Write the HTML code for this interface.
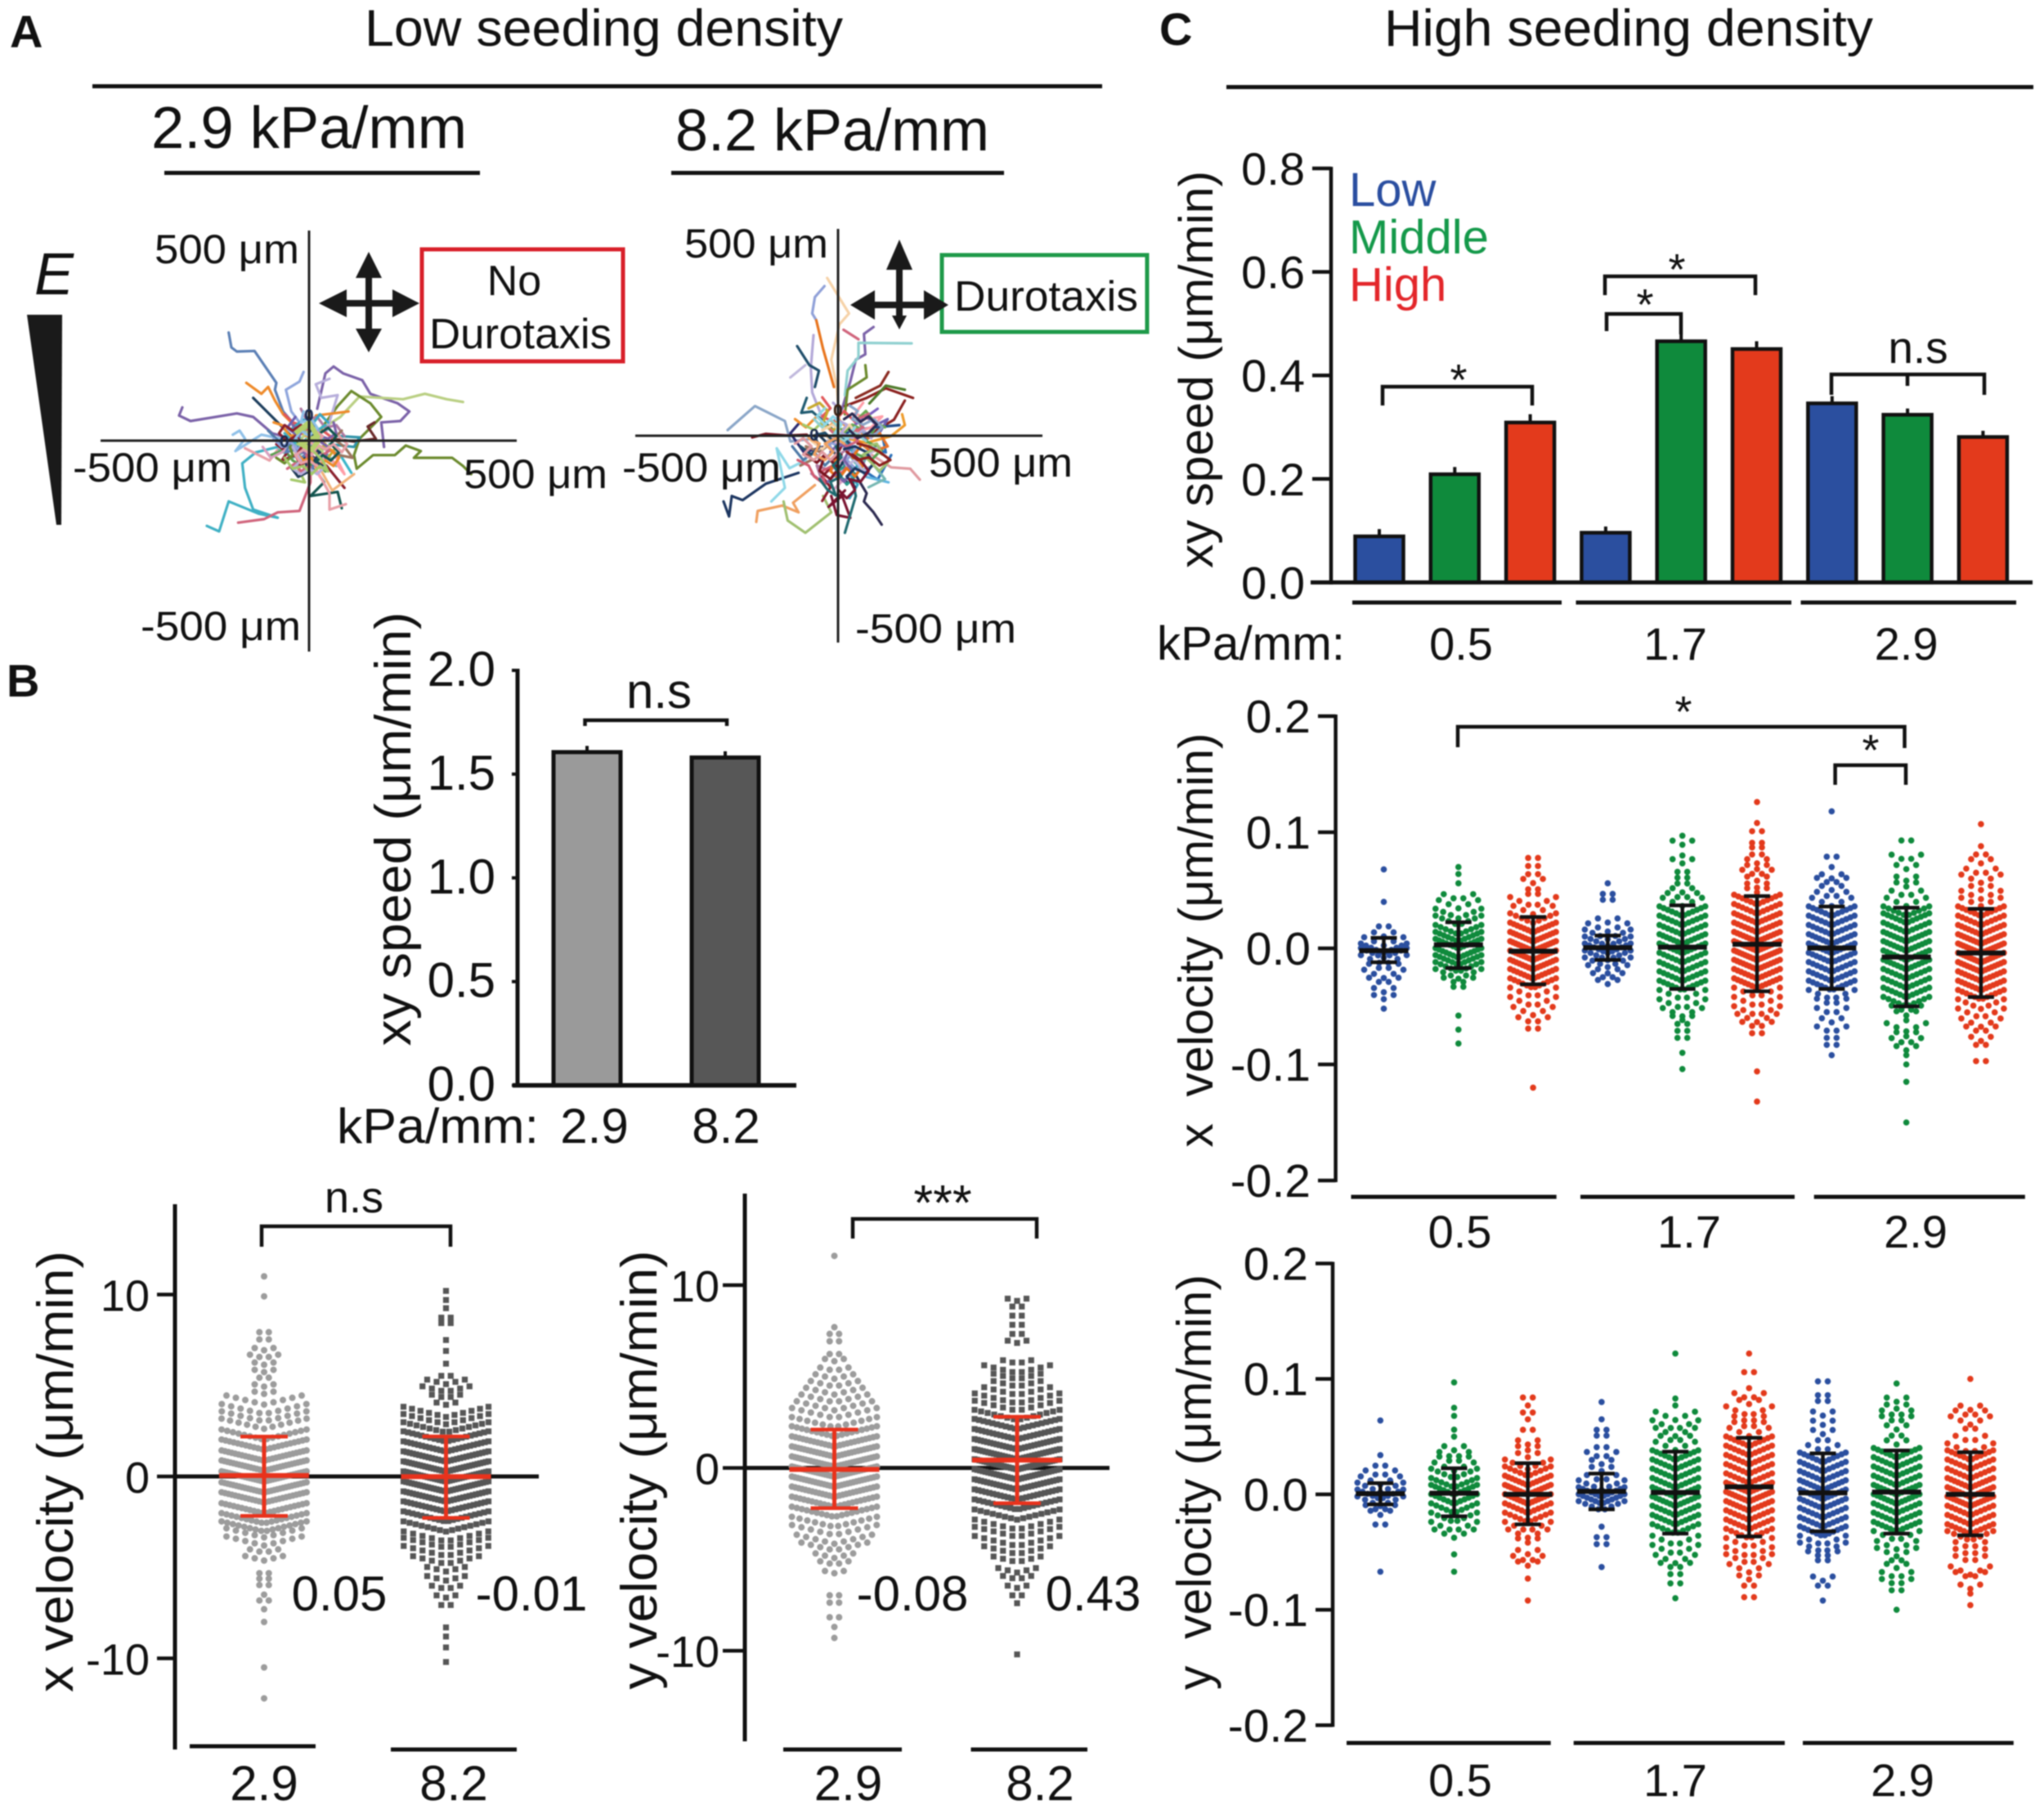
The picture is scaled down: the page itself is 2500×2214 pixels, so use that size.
<!DOCTYPE html>
<html lang="en">
<head>
<meta charset="utf-8">
<title>Low and high seeding density migration figure</title>
<style>
html,body{margin:0;padding:0;background:#fff;}
svg{display:block;font-family:"Liberation Sans",Arial,sans-serif;fill:#111;filter:blur(0.7px);}
</style>
</head>
<body>
<svg id="fig" width="2500" height="2214" viewBox="0 0 2500 2214">
<rect x="0" y="0" width="2500" height="2214" fill="#fff"/>

<g>
<text x="12" y="58" font-size="56" font-weight="bold">A</text>
<text x="446" y="56" font-size="63" textLength="585" lengthAdjust="spacingAndGlyphs">Low seeding density</text>
<rect x="113" y="103" width="1235" height="5" fill="#111"/>
<text x="185" y="181" font-size="72" textLength="386" lengthAdjust="spacingAndGlyphs">2.9 kPa/mm</text>
<text x="826" y="184" font-size="72" textLength="384" lengthAdjust="spacingAndGlyphs">8.2 kPa/mm</text>
<rect x="201" y="209" width="386" height="5" fill="#111"/>
<rect x="821" y="209" width="407" height="5" fill="#111"/>
<text x="42" y="360" font-size="72" font-style="italic">E</text>
<polygon points="33,385 76,385 75,642 69,642" fill="#1a1a1a"/>
<rect x="516" y="305" width="246" height="137" fill="#fff" stroke="#d8202a" stroke-width="5"/>
<text x="629" y="361" font-size="52" text-anchor="middle">No</text>
<text x="525" y="426" font-size="52" textLength="223" lengthAdjust="spacingAndGlyphs">Durotaxis</text>
<rect x="1152" y="312" width="251" height="94" fill="#fff" stroke="#1f9a4a" stroke-width="5"/>
<text x="1167" y="380" font-size="52" textLength="225" lengthAdjust="spacingAndGlyphs">Durotaxis</text>
<path fill="#1a1a1a" d="M400 367H502V375H400ZM447 320H455V420H447ZM390 371L424 354V388ZM513 371L480 388V354ZM451 308L467 340H435ZM451 431L435 402H467Z"/>
<path fill="#1a1a1a" d="M1050 369H1150V377H1050ZM1096 310H1104V395H1096ZM1040 373L1070 355V391ZM1160 373L1130 391V355ZM1100 293L1116 330H1084ZM1100 403L1091 386H1109Z"/>
<g id="tracks-left"></g>
<g id="tracks-right"></g>
<rect x="376.5" y="282" width="3" height="515" fill="#222"/>
<rect x="123" y="537.5" width="509" height="3" fill="#222"/>
<rect x="1023.5" y="280" width="3" height="506" fill="#222"/>
<rect x="777" y="531.5" width="498" height="3" fill="#222"/>
<text x="189" y="322" font-size="50" textLength="177" lengthAdjust="spacingAndGlyphs">500 μm</text>
<text x="89" y="589" font-size="50" textLength="195" lengthAdjust="spacingAndGlyphs">-500 μm</text>
<text x="567" y="597" font-size="50" textLength="176" lengthAdjust="spacingAndGlyphs">500 μm</text>
<text x="172" y="783" font-size="50" textLength="196" lengthAdjust="spacingAndGlyphs">-500 μm</text>
<text x="837" y="315" font-size="50" textLength="176" lengthAdjust="spacingAndGlyphs">500 μm</text>
<text x="761" y="589" font-size="50" textLength="194" lengthAdjust="spacingAndGlyphs">-500 μm</text>
<text x="1136" y="583" font-size="50" textLength="176" lengthAdjust="spacingAndGlyphs">500 μm</text>
<text x="1046" y="786" font-size="50" textLength="197" lengthAdjust="spacingAndGlyphs">-500 μm</text>
<text x="372" y="515" font-size="21" font-weight="bold" fill="#1c2b50">0</text>
<text x="342" y="547" font-size="21" font-weight="bold" fill="#1c2b50">0</text>
<text x="1019" y="509" font-size="21" font-weight="bold" fill="#3a2010">0</text>
<text x="990" y="539" font-size="21" font-weight="bold" fill="#1c2b50">0</text>
</g>

<g>
<text x="8" y="852" font-size="56" font-weight="bold">B</text>
<text transform="translate(502 1014) rotate(-90)" font-size="62" text-anchor="middle" textLength="531" lengthAdjust="spacingAndGlyphs">xy speed (μm/min)</text>
<text x="412" y="1398" font-size="60" textLength="247" lengthAdjust="spacingAndGlyphs">kPa/mm:</text>
<text transform="translate(89 1800) rotate(-90)" font-size="62" text-anchor="middle" textLength="540" lengthAdjust="spacingAndGlyphs">x velocity (μm/min)</text>
<text transform="translate(803 1798) rotate(-90)" font-size="62" text-anchor="middle" textLength="537" lengthAdjust="spacingAndGlyphs">y velocity (μm/min)</text>
<text x="806" y="866" font-size="60" text-anchor="middle">n.s</text>
<path d="M715.5 888V881H889V888" fill="none" stroke="#111" stroke-width="4.5"/>
<text x="433" y="1483" font-size="54" text-anchor="middle">n.s</text>
<path d="M320 1525V1500H551V1525" fill="none" stroke="#111" stroke-width="4.5"/>
<text x="1153" y="1492" font-size="61" text-anchor="middle">***</text>
<path d="M1043 1515V1491H1268V1515" fill="none" stroke="#111" stroke-width="4.5"/>
</g>

<g>
<text x="1418" y="55" font-size="56" font-weight="bold">C</text>
<text x="1693" y="56" font-size="63" textLength="598" lengthAdjust="spacingAndGlyphs">High seeding density</text>
<rect x="1500" y="104" width="987" height="5" fill="#111"/>
<text transform="translate(1483 452) rotate(-90)" font-size="58" text-anchor="middle" textLength="486" lengthAdjust="spacingAndGlyphs">xy speed (μm/min)</text>
<text x="1650" y="252" font-size="58" fill="#2a4ea0">Low</text>
<text x="1650" y="310" font-size="58" fill="#14994a">Middle</text>
<text x="1650" y="368" font-size="58" fill="#e3262a">High</text>
<text x="1415" y="807" font-size="58" textLength="230" lengthAdjust="spacingAndGlyphs">kPa/mm:</text>
<text x="1784" y="483" font-size="54" text-anchor="middle">*</text>
<path d="M1691 496V473H1874V496" fill="none" stroke="#111" stroke-width="4.5"/>
<text x="2051" y="348" font-size="54" text-anchor="middle">*</text>
<path d="M1963 361V338H2147V361" fill="none" stroke="#111" stroke-width="4.5"/>
<text x="2012" y="391" font-size="54" text-anchor="middle">*</text>
<path d="M1965 405V384H2056V409" fill="none" stroke="#111" stroke-width="4.5"/>
<text x="2346" y="444" font-size="55" text-anchor="middle">n.s</text>
<path d="M2240 483V458H2427V483M2333 458V472" fill="none" stroke="#111" stroke-width="4.5"/>
<text transform="translate(1483 1150) rotate(-90)" font-size="59" text-anchor="middle" textLength="507" lengthAdjust="spacingAndGlyphs">x&#160;&#160;velocity (μm/min)</text>
<text x="2059" y="889" font-size="54" text-anchor="middle">*</text>
<path d="M1783 914V889H2329.5V915" fill="none" stroke="#111" stroke-width="4.5"/>
<text x="2288" y="936" font-size="54" text-anchor="middle">*</text>
<path d="M2244.6 960V936H2331V960" fill="none" stroke="#111" stroke-width="4.5"/>
<text transform="translate(1481 1813) rotate(-90)" font-size="59" text-anchor="middle" textLength="508" lengthAdjust="spacingAndGlyphs">y&#160;&#160;velocity (μm/min)</text>
</g>

<g id="charts"></g>
</svg>

<script>
/* ---------- Panel B bar chart ---------- */
const bBarCategories = ['2.9', '8.2'];
const bBarValues = [1.606, 1.58];
const bBarErrors = [0.03, 0.03];
const bBarTicks = ['0.0', '0.5', '1.0', '1.5', '2.0'];

/* ---------- Panel B swarms: rows of [velocity, dot count] ---------- */
const bXvelLow = [[11,1],[9.9,1],[7.9,2],[7.5,2],[7,3],[6.6,4],[6.2,3],[5.8,3],[5.4,2],[5,3],[4.6,3],[4.2,9],[3.7,10],[3.3,10],[2.9,11],[2.3,16],[1.75,22],[1.15,26],[0.6,30],[0,34],[-0.6,30],[-1.15,26],[-1.75,22],[-2.3,18],[-2.75,16],[-3.1,9],[-3.55,9],[-4.1,4],[-4.5,5],[-5.35,2],[-5.65,2],[-6,2],[-6.5,1],[-6.85,2],[-7.3,1],[-8,1],[-10.5,1],[-12.2,1]];
const bXvelHigh = [[10.2,1],[9.7,1],[9.25,1],[8.7,2],[8.4,2],[7.5,1],[6.9,1],[6.2,1],[5.5,2],[5.2,5],[4.8,6],[4.4,4],[4,3],[3.55,11],[3.15,11],[2.7,14],[2.2,20],[1.65,24],[1.1,28],[0.55,32],[0,36],[-0.55,32],[-1.1,28],[-1.65,24],[-2.2,20],[-2.75,15],[-3.3,10],[-3.65,10],[-4.1,10],[-4.6,8],[-5.1,5],[-5.6,5],[-6.1,4],[-6.6,3],[-7.1,2],[-8.3,1],[-8.8,1],[-9.4,1],[-10.2,1]];
const bYvelLow = [[11.6,1],[7.7,1],[7.3,2],[6.9,2],[6.2,2],[5.9,3],[5.4,4],[5,5],[4.6,6],[4.2,7],[3.8,8],[3.4,9],[3,10],[2.5,12],[2,18],[1.45,24],[0.9,28],[0.35,32],[-0.2,34],[-0.75,30],[-1.3,26],[-1.85,22],[-2.4,18],[-2.95,12],[-3.4,10],[-3.9,9],[-4.3,8],[-4.8,5],[-5.2,4],[-5.7,3],[-7,2],[-7.4,2],[-8.2,2],[-8.7,1],[-9.3,1]];
const bYvelHigh = [[9.2,3],[8.8,2],[8.3,2],[7.8,2],[7.3,2],[6.9,3],[5.8,4],[5.4,8],[5,6],[4.6,6],[4.2,8],[3.8,10],[3.4,10],[2.9,14],[2.4,20],[1.85,24],[1.3,28],[0.75,32],[0.2,36],[-0.35,32],[-0.9,28],[-1.45,24],[-2,20],[-2.55,15],[-3.1,10],[-3.5,10],[-4,10],[-4.5,8],[-5,6],[-5.6,5],[-6,4],[-6.5,3],[-7,2],[-7.4,1],[-10.2,1]];
const bXvelMeans = [0.05, -0.01];
const bXvelUpper = [2.19, 2.2];
const bXvelLower = [-2.17, -2.28];
const bYvelMeans = [-0.08, 0.43];
const bYvelUpper = [2.1, 2.8];
const bYvelLower = [-2.2, -1.93];
const bVelTicks = ['10', '0', '-10'];
const bXvelPrinted = ['0.05', '-0.01'];
const bYvelPrinted = ['-0.08', '0.43'];

/* ---------- Panel C bar chart ---------- */
const cGroups = ['0.5', '1.7', '2.9'];
const cDensities = ['low', 'middle', 'high'];
const cBarValues = [0.089, 0.209, 0.309, 0.096, 0.466, 0.451, 0.346, 0.324, 0.281];
const cBarErrors = [0.014, 0.014, 0.016, 0.012, 0.014, 0.015, 0.014, 0.012, 0.012];
const cBarTicks = ['0.0', '0.2', '0.4', '0.6', '0.8'];
const cVelTicks = ['0.2', '0.1', '0.0', '-0.1', '-0.2'];

/* ---------- Panel C x velocity swarms: rows of [velocity, dot count] ---------- */
const xvLow05 = [[0.068,1],[0.04,1],[0.018,2],[0.012,3],[0.006,5],[0,10],[-0.004,9],[-0.01,6],[-0.016,4],[-0.022,5],[-0.028,4],[-0.036,3],[-0.042,3],[-0.052,1]];
const xvMid05 = [[0.07,1],[0.064,1],[0.056,1],[0.044,4],[0.038,5],[0.03,7],[0.024,8],[0.016,10],[0.01,12],[0.004,14],[-0.004,14],[-0.01,12],[-0.016,10],[-0.022,7],[-0.028,4],[-0.034,2],[-0.058,1],[-0.07,1],[-0.082,1]];
const xvHigh05 = [[0.077,2],[0.07,2],[0.063,2],[0.058,3],[0.05,2],[0.046,2],[0.04,6],[0.033,5],[0.026,9],[0.018,14],[0.01,16],[0.002,18],[-0.006,18],[-0.014,16],[-0.022,14],[-0.03,12],[-0.038,6],[-0.046,6],[-0.054,5],[-0.062,4],[-0.07,2],[-0.12,1]];
const xvLow17 = [[0.056,1],[0.046,2],[0.041,2],[0.024,3],[0.018,5],[0.012,7],[0.006,9],[0,11],[-0.006,9],[-0.012,7],[-0.018,5],[-0.024,4],[-0.029,3]];
const xvMid17 = [[0.097,1],[0.091,3],[0.08,1],[0.075,3],[0.065,2],[0.06,2],[0.055,2],[0.05,3],[0.045,4],[0.04,5],[0.032,12],[0.024,12],[0.016,12],[0.008,14],[0,14],[-0.008,12],[-0.016,12],[-0.024,12],[-0.032,12],[-0.04,6],[-0.048,6],[-0.055,5],[-0.06,3],[-0.066,2],[-0.072,2],[-0.078,2],[-0.09,1],[-0.104,1]];
const xvHigh17 = [[0.126,1],[0.108,1],[0.1,2],[0.09,2],[0.086,2],[0.08,2],[0.075,3],[0.07,3],[0.065,4],[0.06,3],[0.054,3],[0.05,3],[0.042,12],[0.034,12],[0.026,14],[0.018,14],[0.01,16],[0.002,18],[-0.006,18],[-0.014,16],[-0.022,14],[-0.03,14],[-0.038,6],[-0.046,6],[-0.054,6],[-0.06,5],[-0.066,4],[-0.074,2],[-0.106,1],[-0.132,1]];
const xvLow29 = [[0.118,1],[0.078,2],[0.07,1],[0.062,3],[0.058,4],[0.052,3],[0.046,4],[0.04,5],[0.032,12],[0.024,12],[0.016,12],[0.008,14],[0,14],[-0.008,13],[-0.016,12],[-0.024,12],[-0.032,12],[-0.04,6],[-0.046,4],[-0.054,4],[-0.062,3],[-0.07,4],[-0.078,2],[-0.084,2],[-0.092,1]];
const xvMid29 = [[0.092,2],[0.078,4],[0.07,3],[0.06,3],[0.055,3],[0.047,4],[0.04,5],[0.032,10],[0.026,12],[0.018,12],[0.01,14],[0.002,14],[-0.006,14],[-0.014,14],[-0.022,12],[-0.03,12],[-0.038,12],[-0.046,10],[-0.052,4],[-0.056,3],[-0.062,1],[-0.068,5],[-0.074,3],[-0.08,4],[-0.086,3],[-0.092,1],[-0.1,1],[-0.115,1],[-0.15,1]];
const xvHigh29 = [[0.107,1],[0.088,1],[0.08,2],[0.075,3],[0.066,4],[0.06,5],[0.052,3],[0.046,5],[0.04,5],[0.032,12],[0.024,12],[0.016,14],[0.008,16],[0,18],[-0.008,18],[-0.016,16],[-0.024,14],[-0.032,14],[-0.04,12],[-0.048,7],[-0.056,6],[-0.064,5],[-0.07,4],[-0.078,3],[-0.084,2],[-0.098,2]];
const xvMeans = [-0.002, 0.003, -0.0025, 0.0006, 0.001, 0.0035, 0.0003, -0.0075, -0.004];
const xvUpper = [0.009, 0.0225, 0.027, 0.011, 0.037, 0.045, 0.036, 0.035, 0.034];
const xvLower = [-0.012, -0.017, -0.031, -0.01, -0.035, -0.037, -0.035, -0.05, -0.042];

/* ---------- Panel C y velocity swarms: rows of [velocity, dot count] ---------- */
const yvLow05 = [[0.064,1],[0.034,1],[0.024,2],[0.018,4],[0.012,5],[0.006,7],[0,10],[-0.006,7],[-0.012,4],[-0.016,3],[-0.027,2],[-0.067,1]];
const yvMid05 = [[0.097,1],[0.075,1],[0.068,1],[0.056,1],[0.05,1],[0.04,3],[0.034,4],[0.03,4],[0.024,5],[0.018,8],[0.01,10],[0.004,12],[-0.004,12],[-0.012,10],[-0.02,8],[-0.028,6],[-0.034,5],[-0.052,1],[-0.067,1]];
const yvHigh05 = [[0.083,2],[0.077,1],[0.07,2],[0.065,1],[0.055,2],[0.045,3],[0.04,3],[0.034,3],[0.026,7],[0.02,10],[0.012,14],[0.004,16],[-0.004,16],[-0.012,12],[-0.02,10],[-0.028,6],[-0.034,5],[-0.04,3],[-0.05,3],[-0.056,4],[-0.06,3],[-0.073,1],[-0.092,1]];
const yvLow17 = [[0.08,1],[0.065,1],[0.055,2],[0.05,2],[0.04,2],[0.034,4],[0.028,3],[0.022,3],[0.014,4],[0.008,7],[0.002,12],[-0.004,12],[-0.01,8],[-0.028,1],[-0.038,2],[-0.044,2],[-0.063,1]];
const yvMid17 = [[0.122,1],[0.083,1],[0.077,1],[0.068,5],[0.06,6],[0.054,5],[0.048,4],[0.042,5],[0.034,12],[0.026,12],[0.018,12],[0.01,12],[0.002,14],[-0.006,14],[-0.014,12],[-0.022,12],[-0.03,10],[-0.04,6],[-0.048,6],[-0.056,5],[-0.062,4],[-0.07,2],[-0.078,2],[-0.09,1]];
const yvHigh17 = [[0.122,1],[0.105,2],[0.092,1],[0.085,4],[0.08,3],[0.072,6],[0.065,4],[0.06,4],[0.054,5],[0.046,12],[0.038,12],[0.03,12],[0.022,12],[0.014,12],[0.006,16],[-0.002,16],[-0.01,14],[-0.018,12],[-0.026,12],[-0.034,10],[-0.042,6],[-0.05,6],[-0.056,6],[-0.064,5],[-0.072,3],[-0.08,2],[-0.09,2]];
const yvLow29 = [[0.097,2],[0.085,2],[0.08,2],[0.07,3],[0.062,3],[0.054,3],[0.046,2],[0.04,4],[0.032,12],[0.024,12],[0.016,12],[0.008,14],[0,14],[-0.008,13],[-0.016,12],[-0.024,12],[-0.032,12],[-0.04,6],[-0.046,6],[-0.052,4],[-0.058,2],[-0.073,3],[-0.08,2],[-0.092,1]];
const yvMid29 = [[0.096,1],[0.082,3],[0.076,3],[0.07,4],[0.065,4],[0.058,3],[0.05,2],[0.045,3],[0.036,12],[0.028,12],[0.02,12],[0.012,12],[0.004,14],[-0.004,14],[-0.012,12],[-0.02,12],[-0.028,12],[-0.036,6],[-0.044,5],[-0.05,5],[-0.058,2],[-0.062,3],[-0.07,4],[-0.076,4],[-0.084,2],[-0.1,1]];
const yvHigh29 = [[0.1,1],[0.075,3],[0.07,4],[0.064,5],[0.056,2],[0.048,4],[0.04,6],[0.034,12],[0.026,12],[0.018,12],[0.01,14],[0.002,16],[-0.006,16],[-0.014,12],[-0.022,12],[-0.03,12],[-0.036,8],[-0.044,4],[-0.05,4],[-0.056,4],[-0.066,5],[-0.07,4],[-0.08,3],[-0.086,1],[-0.096,1]];
const yvMeans = [0.0006, 0.001, 0, 0.0026, 0.0016, 0.0065, 0.0013, 0.002, 0];
const yvUpper = [0.0097, 0.0226, 0.027, 0.018, 0.037, 0.049, 0.0355, 0.038, 0.0365];
const yvLower = [-0.0087, -0.019, -0.026, -0.013, -0.034, -0.0365, -0.032, -0.034, -0.0355];

/* ---------- Panel A trajectories: flat [dx, dy, dx, dy, ...] displacements from origin ---------- */
const leftTrackColors = ['#5b7fb5','#7b62a8','#7b62a8','#b9cf82','#6b8a2d','#3fb0c4','#d0647c','#ee8a2a','#1c3d5c','#8fa6dc','#b7aedb','#12554f','#8a1f2c','#e8a0a8','#e8a0a8','#8fc0e8','#a4c96a','#6a2a2a','#2f93a8','#3ab5c9','#f2b27a','#ee8a2a','#4e79a7','#f28e2b','#76b7b2','#e15759','#59a14f','#b07aa1','#ff9da7','#9c755f','#1f3b57','#a4c96a','#8c1c2c','#3aa6c2','#d9a0c0','#6b5fb0','#c7a92e'];
const leftTracks = [
[-295,400,-285,345,-265,330,-200,332,-120,215,-125,190,-95,110,-35,40],
[-465,125,-477,95,-435,75,-265,103,-205,90,-135,30,-65,10],
[30,120,60,250,90,275,125,250,195,225,225,175,325,140,368,110,335,75,265,70,275,-20],
[565,145,505,155,425,175,345,155,185,165,115,90,5,20],
[595,-120,565,-90,525,-60,385,-60,410,-35,355,-15,315,-50,235,-50,175,-100,165,-50,185,10,265,90,225,140,155,185,105,130,25,20],
[-375,-310,-330,-330,-295,-220,-185,-265,-115,-280,-205,-250,-235,-170,-245,-80,-195,-40,-115,-20,-15,-10],
[-260,-298,-165,-285,-115,-260,-35,-255,5,-150,5,-50],
[-230,215,-175,175,-150,200,-125,150,-95,100,-15,20],
[-205,160,-135,90,-65,20],
[-20,255,-35,220,-85,190,-65,110,-5,30],
[75,230,25,210,45,160,105,170,65,40],
[120,-245,105,-185,5,-200,55,-150,-5,-60],
[130,-170,65,-90,5,-50],
[-235,-25,-145,-70,-115,-30,-35,-20],
[135,-230,75,-250,75,-190,25,-100],
[-280,25,-255,40,-235,10,-270,-35,-175,25,-55,0],
[-65,-140,-15,-150,-45,-90,5,-30],
[240,70,215,55,245,10,165,0,85,10],
[105,20,185,15,165,-20,75,-10],
[155,-115,115,-50,25,-10],
[165,-120,85,-180,35,-90],
[145,110,25,95,5,30],
[-150,40,-120,10,-90,-20,-40,-10,10,-30,40,-60],
[-130,70,-100,60,-70,20,-20,30,20,0,60,10],
[-110,-30,-60,-60,-20,-40,30,-80,70,-50,100,-90],
[-90,100,-60,70,-30,60,10,30,50,40,90,10],
[-140,-50,-90,-30,-60,-70,-10,-100,20,-70,60,-110],
[-30,120,-10,80,30,90,60,50,100,60,130,20],
[40,-130,20,-90,60,-60,100,-80,130,-120,90,-40],
[120,40,90,10,130,-20,160,-60,110,-50,60,-20],
[-70,-90,-40,-130,0,-110,-20,-60,30,-30,10,10],
[-20,40,10,70,40,40,20,0,50,-30,80,-10],
[-120,-10,-80,-40,-100,-70,-50,-50,-30,-90,0,-60],
[70,70,40,100,10,60,-20,80,-60,50,-30,10],
[-170,-20,-140,-60,-100,-40,-60,-10,-30,-30,10,-10],
[-50,90,-80,50,-40,20,-70,-10,-30,-40,20,-20],
[100,-20,70,-60,30,-40,60,-10,20,20,-20,0],
[-100,20,-70,-10,-85,-40,-50,-30,-30,-60,0,-40,20,-70,10,-110],
[-60,60,-30,30,-50,0,-10,-10,10,20,40,0,70,-20,60,-60],
[-40,-20,-10,-50,20,-30,10,0,40,20,70,10,100,30,90,70],
[10,50,-20,20,-40,-10,-10,-30,20,-10,50,-40,30,-70,60,-100],
[-120,-60,-90,-80,-60,-50,-70,-20,-40,0,-10,-20,20,10,0,40],
[60,60,30,40,50,10,20,-10,-10,10,-30,-20,-60,0,-90,30],
[-80,-100,-50,-80,-30,-110,0,-90,-10,-50,20,-30,50,-50,80,-30],
[80,-30,110,-60,90,-90,60,-70,30,-100,10,-60,-20,-70,-50,-40],
[-10,90,20,60,0,30,30,10,10,-20,40,-40,20,-70,50,-90],
[-130,10,-100,-20,-70,0,-40,-30,-20,0,10,-10,40,20,30,50],
[-60,-20,-30,-70,-60,-100,-30,-120,0,-100,30,-120,60,-90,40,-50],
[40,30,70,50,100,20,80,-10,110,-40,80,-70,50,-50,20,-80],
[-30,60,-60,40,-90,60,-110,30,-80,0,-50,20,-20,-10,-40,-40],
[0,0,30,-20,10,-50,-20,-30,-50,-50,-30,-80,0,-70,30,-90],
[20,40,50,20,30,-10,60,-30,90,-10,120,-40,140,-10,110,20],
[-20,-10,-50,10,-30,40,0,20,30,50,10,80,-30,70,-20,110],
[-90,-60,-60,-100,-20,-90,10,-120,40,-90,70,-110,50,-70,20,-40]
];
const leftThickTrack = [-50,30,0,70,30,20,-30,-10,10,-30,40,10];
const rightTrackColors = ['#f6d2a8','#8fa0d8','#e8741c','#b3a8d8','#1f4d6a','#c0b8dc','#7b62a8','#d0647c','#8fd0d0','#8aa6c8','#7a1420','#1c3560','#f0a060','#a0c070','#8fd8e8','#7a1430','#2c2a50','#1f6a70','#e09aa0','#8a1f1c','#8a2a20','#6b8a2d','#4e7a2a','#8a2020','#ee9a2a','#7b5fc0','#2a70b8','#1f4d8a','#5fb5e0','#2c2a70','#1f5a70','#4e79a7','#f28e2b','#76b7b2','#e15759','#59a14f','#b07aa1','#ff9da7','#9c755f','#1f3b57','#a4c96a','#8c1c2c','#3aa6c2','#d9a0c0','#6b5fb0','#c7a92e','#e6722a','#2a9a8a','#d05a70','#6aa84f'];
const rightTracks = [
[-42,578,38,448,3,408,-27,278,-7,178,3,58],
[-52,548,-87,508,-97,448,-82,423],
[-82,423,-57,318,-17,178],
[-92,368,-102,248,-97,158,-57,58],
[-152,328,-107,258,-72,238,-87,178],
[-177,213,-122,258],
[128,398,93,373,98,298,63,278,43,198,13,98],
[18,388,73,353],
[268,338,73,340,73,288,33,238,23,148],
[-407,20,-307,108,-197,53,-177,-22,-97,-12],
[-317,-7,-267,6,-187,0,-117,3],
[-422,-242,-402,-297,-392,-222,-352,-237,-267,-177,-147,-137],
[-302,-317,-297,-277,-207,-257,-147,-282,-167,-247,-87,-182],
[-202,-242,-187,-312,-122,-357,-27,-282,-57,-222],
[-247,-242,-197,-192,-227,-47,-180,-120,-120,-90],
[-27,-222,-7,-292,43,-302,13,-222,-37,-262,23,-202],
[158,-327,128,-282,93,-242,103,-212,60,-140],
[23,-357,63,-222,43,-122],
[298,-162,263,-122,193,-117,123,-72],
[273,138,173,173,103,138,23,108],
[183,233,153,183,63,138],
[98,258,103,213,33,168,23,78],
[243,168,173,183,113,118],
[243,128,203,58,103,-2],
[233,78,243,38,193,-2,103,-27,13,-7],
[143,98,73,48,23,18],
[163,-12,173,-62,113,-42,83,-122,143,-162,193,-72],
[223,38,113,28,23,8],
[183,-172,103,-152,33,-62],
[-147,43,-177,8,-127,-62,-57,-42],
[-117,138,-137,83,-97,88,-17,18],
[-170,-40,-130,-90,-90,-60,-50,-110,-10,-70,30,-120],
[-160,60,-120,30,-80,70,-40,30,0,60,40,20],
[60,-100,100,-70,80,-130,130,-110,170,-160,110,-190],
[-60,140,-30,100,-60,70,-20,50,20,90,60,50],
[130,20,100,-20,160,-50,120,-90,70,-70,30,-30],
[-100,-140,-60,-170,-80,-110,-30,-130,-10,-80,30,-50],
[90,120,60,80,110,60,160,70,120,30,60,10],
[-140,-110,-100,-90,-120,-40,-70,-60,-30,-30,0,-10],
[-80,10,-50,-20,-20,-60,20,-90,-10,-140,30,-170],
[-130,40,-90,20,-60,50,-20,10,30,30,70,-10],
[-60,-240,-30,-190,-60,-150,-20,-110,0,-60,20,-20],
[40,-230,70,-180,40,-140,80,-100,50,-60,20,-10],
[-20,-200,10,-170,-30,-130,10,-90,-10,-40,-20,0],
[100,70,140,40,180,60,150,10,100,-10,50,0],
[-110,100,-70,120,-40,90,-60,40,-20,20,10,40],
[60,30,110,-10,150,10,180,-40,120,-60,70,-20],
[-30,-90,0,-130,40,-100,60,-150,30,-180,0,-140],
[-150,-90,-110,-110,-90,-150,-50,-180,-60,-130,-20,-110,10,-140,40,-100],
[170,30,130,50,100,90,70,60,90,20,50,40,20,10,-10,40],
[-100,-20,-60,-50,-30,-20,-60,20,-20,40,10,10,40,40,70,0],
[-60,-90,-20,-60,-40,-20,0,-40,30,-10,60,-50,30,-90,70,-130],
[80,-40,50,-80,90,-110,60,-150,30,-120,0,-160,-30,-130,-10,-90],
[-20,120,10,90,-10,60,30,40,10,10,50,-10,90,20,120,-10],
[-140,-40,-100,-70,-70,-40,-90,0,-50,10,-20,-20,10,0,40,-30],
[150,-40,110,-70,130,-110,90,-130,60,-90,30,-110,10,-70,-20,-50],
[-40,-170,-10,-140,20,-170,50,-130,20,-90,40,-50,0,-30,-30,-60],
[110,80,70,60,90,30,50,10,70,-20,30,-40,0,-10,-30,20],
[-90,60,-60,30,-30,60,0,30,-20,0,20,-20,60,10,100,-20],
[40,110,70,90,50,60,90,40,130,60,160,30,130,0,90,10],
[-120,-70,-80,-100,-50,-70,-70,-130,-30,-160,0,-120,-30,-90,10,-70],
[60,-190,30,-150,60,-120,100,-140,130,-100,100,-60,60,-40,20,-50],
[-110,-10,-70,-30,-90,-70,-50,-90,-20,-60,-50,-30,-10,-10,20,-30],
[180,-100,150,-130,120,-100,90,-70,130,-50,160,-70,140,-30,100,-40],
[-50,100,-80,70,-50,40,-20,70,10,40,-10,10,30,-10,60,30],
[0,-200,30,-230,60,-200,40,-160,80,-170,110,-130,80,-90,50,-70],
[20,60,50,80,80,50,110,70,140,40,110,10,70,-10,40,20],
[-70,-160,-40,-200,-10,-220,-30,-170,10,-150,-20,-110,10,-80,-10,-40],
[-160,-30,-130,-10,-100,-40,-130,-70,-90,-90,-60,-60,-30,-90,0,-60],
[30,-60,70,-90,110,-80,150,-110,190,-90,150,-60,110,-40,70,-30]
];

/* ---------- Drawing helpers ---------- */
const svgNS = 'http://www.w3.org/2000/svg';
const chartsRoot = document.getElementById('charts');

function add(tag, attrs, name, parent) {
  const el = document.createElementNS(svgNS, tag);
  for (const k in attrs) el.setAttribute(k, attrs[k]);
  
  
  (parent || chartsRoot).appendChild(el);
  return el;
}
function addText(str, x, y, size, anchor, name, parent) {
  const el = add('text', {x: x, y: y, 'font-size': size, 'text-anchor': anchor}, name, parent);
  el.textContent = str;
  return el;
}
function hLine(x1, x2, y, w, color, name, parent) {
  return add('rect', {x: x1, y: y - w / 2, width: x2 - x1, height: w, fill: color}, name, parent);
}
function vLine(x, y1, y2, w, color, name, parent) {
  return add('rect', {x: x - w / 2, y: Math.min(y1, y2), width: w, height: Math.abs(y2 - y1), fill: color}, name, parent);
}
function linear(v0, p0, v1, p1) {
  return v => p0 + (v - v0) * (p1 - p0) / (v1 - v0);
}

function drawSwarm(rows, cx, yScale, o, name, parent) {
  const g = add('g', {fill: o.color}, name, parent);
  rows.forEach(row => {
    const v = row[0], n = row[1];
    const gap = n > 1 ? Math.min(o.gap, o.width / (n - 1)) : 0;
    const rowHalf = gap * (n - 1) / 2;
    for (let i = 0; i < n; i++) {
      const dx = (i - (n - 1) / 2) * gap;
      const px = cx + dx;
      const py = yScale(v) + o.slope * (rowHalf / 2 - Math.abs(dx));
      if (o.square) {
        add('rect', {x: px - o.size / 2, y: py - o.size / 2, width: o.size, height: o.size}, 'swarm-square', g);
      } else {
        add('circle', {cx: px, cy: py, r: o.size / 2}, 'swarm-dot', g);
      }
    }
  });
}
function drawErr(cx, yScale, mean, up, low, o, name, parent) {
  const g = add('g', {}, name, parent);
  vLine(cx, yScale(up), yScale(low), o.vw, o.color, 'sd-stem', g);
  hLine(cx - o.capW / 2, cx + o.capW / 2, yScale(up), o.capH, o.color, 'sd-cap-upper', g);
  hLine(cx - o.capW / 2, cx + o.capW / 2, yScale(low), o.capH, o.color, 'sd-cap-lower', g);
  hLine(cx - o.meanW / 2, cx + o.meanW / 2, yScale(mean), o.meanH, o.color, 'mean-line', g);
}
function drawTracks(list, colors, ox, oy, name, parent) {
  const unit = 1 / 3;
  list.forEach((t, i) => {
    let pts = '';
    for (let k = 0; k < t.length; k += 2) pts += (ox + t[k] * unit).toFixed(1) + ',' + (oy - t[k + 1] * unit).toFixed(1) + ' ';
    add('polyline', {points: pts, fill: 'none', stroke: colors[i % colors.length], 'stroke-width': 3.2, 'stroke-linejoin': 'round', 'stroke-linecap': 'round'}, name, parent);
  });
}

/* ---------- Panel A tracks ---------- */
const tl = document.getElementById('tracks-left');
const tr = document.getElementById('tracks-right');
drawTracks(leftTracks, leftTrackColors, 378, 540, 'cell-track', tl);
add('polyline', {points: leftThickTrack.reduce((s, v, i) => s + (i % 2 ? (540 - v / 3).toFixed(1) + ' ' : (378 + v / 3).toFixed(1) + ','), ''), fill: 'none', stroke: '#b5d06c', 'stroke-width': 6}, 'cell-track-thick', tl);
drawTracks(rightTracks, rightTrackColors, 1025.7, 532.7, 'cell-track', tr);

/* ---------- Panel B bar chart ---------- */
(function () {
  const y = linear(0, 1327.6, 2, 820);
  const g = add('g', {}, 'b-speed-bar-chart');
  const centers = [718, 887];
  const fills = ['#9a9a9a', '#575757'];
  bBarCategories.forEach((c, i) => {
    vLine(centers[i], y(bBarValues[i]), y(bBarValues[i] + bBarErrors[i]), 4, '#111', 'bar-error-' + c, g);
    add('rect', {x: centers[i] - 41, y: y(bBarValues[i]), width: 82, height: y(0) - y(bBarValues[i]), fill: fills[i], stroke: '#111', 'stroke-width': 5}, 'bar-' + c, g);
  });
  const labelX = [727, 888];
  bBarCategories.forEach((c, i) => addText(c, labelX[i], 1398, 60, 'middle', 'b-bar-x-label', g));
  vLine(633, 818, 1330, 5, '#111', 'b-bar-y-axis', g);
  hLine(627, 974, 1327.6, 5.5, '#111', 'b-bar-baseline', g);
  bBarTicks.forEach(t => {
    const v = parseFloat(t);
    hLine(626, 633, y(v), 4, '#111', 'y-tick', g);
    addText(t, 606, y(v) + 19, 60, 'end', 'y-tick-label', g);
  });
})();

/* ---------- Panel B swarm plots ---------- */
function drawBSwarmPlot(cfg, rowsLow, rowsHigh, means, uppers, lowers, printed) {
  const g = add('g', {}, cfg.name);
  const y = cfg.y;
  hLine(cfg.axisX, cfg.zeroEnd, y(0), 5, '#111', 'zero-line', g);
  drawSwarm(rowsLow, cfg.cx[0], y, {color: '#9c9c9c', size: 8, gap: 11.5, width: 104, slope: 0.24}, 'swarm-2-9', g);
  drawSwarm(rowsHigh, cfg.cx[1], y, {color: '#565656', size: 7.2, gap: 11.5, width: 104, slope: 0.24, square: true}, 'swarm-8-2', g);
  const er = {color: '#e8321c', vw: 5, capW: 58, capH: 4.5, meanW: 110, meanH: 6};
  drawErr(cfg.cx[0], y, means[0], uppers[0], lowers[0], er, 'mean-sd-2-9', g);
  drawErr(cfg.cx[1], y, means[1], uppers[1], lowers[1], er, 'mean-sd-8-2', g);
  vLine(cfg.axisX, cfg.top, cfg.bottom, 5, '#111', 'y-axis', g);
  bVelTicks.forEach(t => {
    const v = parseFloat(t);
    hLine(cfg.tickX, cfg.axisX, y(v), 4.5, '#111', 'y-tick', g);
    addText(t, cfg.labelX, y(v) + 20, 54, 'end', 'y-tick-label', g);
  });
  cfg.under.forEach(u => hLine(u[0], u[1], u[2], 5, '#111', 'group-underline', g));
  ['2.9', '8.2'].forEach((c, i) => addText(c, cfg.catX[i], 2202, 60, 'middle', 'x-category-label', g));
  printed.forEach((p, i) => addText(p, cfg.printX[i], 1970, 60, 'middle', 'mean-value-label', g));
}
drawBSwarmPlot({name: 'b-x-velocity-plot', y: linear(0, 1806, 10, 1583.5), axisX: 214, zeroEnd: 659, top: 1473, bottom: 2140, tickX: 192, labelX: 183, cx: [323, 545.5],
  under: [[232, 386, 2136], [478, 632, 2140]], catX: [323, 555], printX: [415, 650]},
  bXvelLow, bXvelHigh, bXvelMeans, bXvelUpper, bXvelLower, bXvelPrinted);
drawBSwarmPlot({name: 'b-y-velocity-plot', y: linear(0, 1795.6, 10, 1572), axisX: 911, zeroEnd: 1357, top: 1460, bottom: 2130, tickX: 884, labelX: 880, cx: [1020.5, 1244],
  under: [[958, 1103, 2140], [1187.5, 1330, 2140]], catX: [1037.5, 1272], printX: [1116, 1337]},
  bYvelLow, bYvelHigh, bYvelMeans, bYvelUpper, bYvelLower, bYvelPrinted);

/* ---------- Panel C bar chart ---------- */
const cColors = ['#2b4f9f', '#0f8a3c', '#e33a1c'];
(function () {
  const y = linear(0, 712.4, 0.8, 206);
  const x = i => 1687 + i * 92.3;
  const g = add('g', {}, 'c-speed-bar-chart');
  cBarValues.forEach((v, i) => {
    const nm = cGroups[Math.floor(i / 3)] + '-' + cDensities[i % 3];
    vLine(x(i), y(v), y(v + cBarErrors[i]), 4, '#111', 'bar-error-' + nm, g);
    add('rect', {x: x(i) - 29.5, y: y(v), width: 59, height: y(0) - y(v), fill: cColors[i % 3], stroke: '#111', 'stroke-width': 4.5}, 'bar-' + nm, g);
  });
  vLine(1628, 204, 715, 4.5, '#111', 'c-bar-y-axis', g);
  hLine(1603, 2486, 712.4, 5, '#111', 'c-bar-baseline', g);
  cBarTicks.forEach(t => {
    const v = parseFloat(t);
    hLine(1605, 1628, y(v), 4.5, '#111', 'y-tick', g);
    addText(t, 1596, y(v) + 20, 56, 'end', 'y-tick-label', g);
  });
  [[1654, 1910], [1927.5, 2191], [2202.5, 2466]].forEach(u => hLine(u[0], u[1], 737, 5, '#111', 'group-underline', g));
  [1787, 2049, 2331.6].forEach((px, i) => addText(cGroups[i], px, 807, 56, 'middle', 'x-group-label', g));
})();

/* ---------- Panel C swarm plots ---------- */
function drawCSwarmPlot(cfg, series, means, uppers, lowers) {
  const g = add('g', {}, cfg.name);
  series.forEach((rows, i) => {
    const nm = cGroups[Math.floor(i / 3)] + '-' + cDensities[i % 3];
    drawSwarm(rows, cfg.x(i), cfg.y, {color: cColors[i % 3], size: 7.6, gap: 12, width: 56, slope: 0.42}, 'swarm-' + nm, g);
  });
  series.forEach((rows, i) => {
    drawErr(cfg.x(i), cfg.y, means[i], uppers[i], lowers[i], {color: '#111', vw: 4.5, capW: 32, capH: 4.5, meanW: 60, meanH: 6}, 'mean-sd', g);
  });
  vLine(cfg.axisX, cfg.y(0.2) - 2, cfg.y(-0.2) + 2, 4.5, '#111', 'y-axis', g);
  cVelTicks.forEach(t => {
    const v = parseFloat(t);
    hLine(cfg.tickX, cfg.axisX, cfg.y(v), 4.5, '#111', 'y-tick', g);
    addText(t, cfg.labelX, cfg.y(v) + 20, 57, 'end', 'y-tick-label', g);
  });
  cfg.under.forEach(u => hLine(u[0], u[1], cfg.underY, 5, '#111', 'group-underline', g));
  cfg.groupX.forEach((px, i) => addText(cGroups[i], px, cfg.groupY, 56, 'middle', 'x-group-label', g));
}
drawCSwarmPlot({name: 'c-x-velocity-plot', y: linear(0, 1160, 0.2, 876), x: i => 1692.5 + i * 91.3, axisX: 1633.6, tickX: 1612, labelX: 1603,
  under: [[1652.5, 1903.7], [1933, 2195], [2218.7, 2476.8]], underY: 1464, groupX: [1785.5, 2066, 2343], groupY: 1526},
  [xvLow05, xvMid05, xvHigh05, xvLow17, xvMid17, xvHigh17, xvLow29, xvMid29, xvHigh29], xvMeans, xvUpper, xvLower);
drawCSwarmPlot({name: 'c-y-velocity-plot', y: linear(0, 1827.9, 0.2, 1545.5), x: i => 1688.3 + i * 90.2, axisX: 1630, tickX: 1609, labelX: 1600,
  under: [[1647, 1896.7], [1924.7, 2182.9], [2205, 2462.8]], underY: 2132, groupX: [1786, 2049, 2327], groupY: 2197},
  [yvLow05, yvMid05, yvHigh05, yvLow17, yvMid17, yvHigh17, yvLow29, yvMid29, yvHigh29], yvMeans, yvUpper, yvLower);
</script>
</body>
</html>
